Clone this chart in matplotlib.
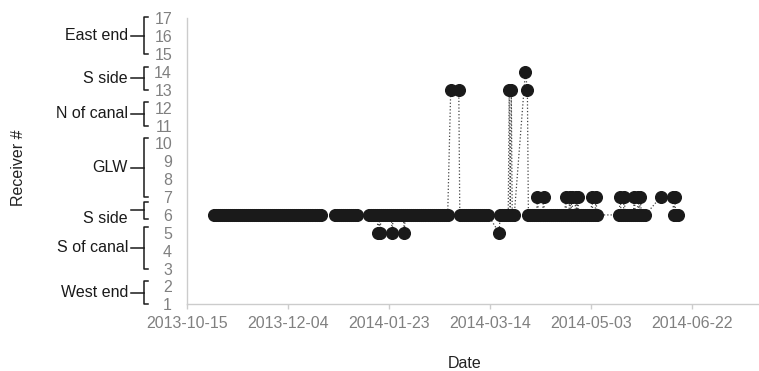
import numpy as np
import pandas as pd
import matplotlib.pyplot as plt
import matplotlib.dates as mdates
import matplotlib.transforms as mtransforms

plt.rcParams['font.family'] = ['Liberation Sans', 'DejaVu Sans']

# daily detections at the home receiver (#6), as runs of consecutive days
home_receiver = 6
home_start = ['2013-10-28', '2013-12-27', '2014-01-13', '2014-02-27',
              '2014-03-19', '2014-04-02', '2014-05-17', '2014-06-13']
home_end = ['2013-12-20', '2014-01-07', '2014-02-21', '2014-03-13',
            '2014-03-26', '2014-05-06', '2014-05-30', '2014-06-15']

# detections away from the home receiver
away_times = ['2014-01-17 12:00', '2014-01-18 12:00', '2014-01-24 12:00',
              '2014-01-30 12:00', '2014-02-22 12:00', '2014-02-26 12:00',
              '2014-03-18 12:00', '2014-03-23 12:00', '2014-03-24 12:00',
              '2014-03-31 12:00', '2014-04-01 12:00', '2014-04-06 12:00',
              '2014-04-09 12:00', '2014-04-20 12:00', '2014-04-22 12:00',
              '2014-04-23 12:00', '2014-04-25 12:00', '2014-04-26 12:00',
              '2014-05-03 12:00', '2014-05-05 12:00', '2014-05-17 12:00',
              '2014-05-19 12:00', '2014-05-24 12:00', '2014-05-26 12:00',
              '2014-05-27 12:00', '2014-06-06 12:00', '2014-06-12 12:00',
              '2014-06-13 12:00']
away_receivers = [5, 5, 5,
                  5, 13, 13,
                  5, 13, 13,
                  14, 13, 7,
                  7, 7, 7,
                  7, 7, 7,
                  7, 7, 7,
                  7, 7, 7,
                  7, 7, 7,
                  7]

# receiver groups shown as brackets on the y axis
group_names = ['East end', 'S side', 'N of canal', 'GLW', 'S side', 'S of canal', 'West end']
group_lo = [15, 13, 11, 7, 6, 3, 1]
group_hi = [17, 14, 12, 10, 6, 5, 2]

tick_dates = ['2013-10-15', '2013-12-04', '2014-01-23', '2014-03-14', '2014-05-03', '2014-06-22']

# build the track
home = pd.concat([pd.Series(pd.date_range(s, e, freq='D')) for s, e in zip(home_start, home_end)])
track = pd.DataFrame({
    'time': list(home) + list(pd.to_datetime(away_times)),
    'receiver': [home_receiver] * len(home) + away_receivers,
}).sort_values('time', kind='stable')

W, H = 759, 371
fig = plt.figure(figsize=(W / 100, H / 100), dpi=100)
ax = fig.add_axes([187.4 / W, 1 - 304.3 / H, 1 - 187.4 / W, (304.3 - 18.3) / H])

ax.plot(track['time'], track['receiver'], linestyle=':', color='#444444', lw=0.9,
        marker='o', ms=8.4, mfc='#1a1a1a', mec='#1a1a1a', clip_on=False)

ax.set_ylim(1, 17)
ax.set_yticks(range(1, 18))
ax.set_xlim(pd.Timestamp('2013-10-15'), pd.Timestamp('2014-07-25 07:00'))
ax.set_xticks(pd.to_datetime(tick_dates))
ax.xaxis.set_major_formatter(mdates.DateFormatter('%Y-%m-%d'))

for side in ['top', 'right']:
    ax.spines[side].set_visible(False)
for side in ['left', 'bottom']:
    ax.spines[side].set_color('#cccccc')
    ax.spines[side].set_linewidth(1.0)

ax.tick_params(axis='x', colors='#cccccc', labelcolor='#808080', labelsize=11.5,
               length=3.6, width=1, pad=4.8)
ax.tick_params(axis='y', labelcolor='#808080', labelsize=11.5, length=0, pad=11)

# group brackets left of the tick labels
tr = mtransforms.blended_transform_factory(fig.transFigure, ax.transData)
x_bar, x_hook, x_dash, x_text = 144 / W, 148 / W, 131 / W, 128 / W
for name, lo, hi in zip(group_names, group_lo, group_hi):
    if lo == hi:
        bot, top = lo - 0.2, hi + 0.75
    else:
        bot, top = lo, min(hi + 0.3, 17.05)
    mid = (bot + top) / 2
    ax.plot([x_hook, x_bar, x_bar, x_hook], [top, top, bot, bot], color='#1a1a1a',
            lw=1.1, transform=tr, clip_on=False)
    ax.plot([x_dash, x_bar], [mid, mid], color='#1a1a1a', lw=1.1, transform=tr, clip_on=False)
    ax.text(x_text, mid if lo != hi else lo - 0.2, name, ha='right', va='center',
            fontsize=11.5, color='#1a1a1a', transform=tr)

fig.text(18.5 / W, 1 - 167.5 / H, 'Receiver #', rotation=90, ha='center', va='center',
         fontsize=11.5, color='#222222')
fig.text(465 / W, 1 - 363 / H, 'Date', ha='center', va='center', fontsize=11.5, color='#222222')

fig.savefig('out.png', dpi=100)
